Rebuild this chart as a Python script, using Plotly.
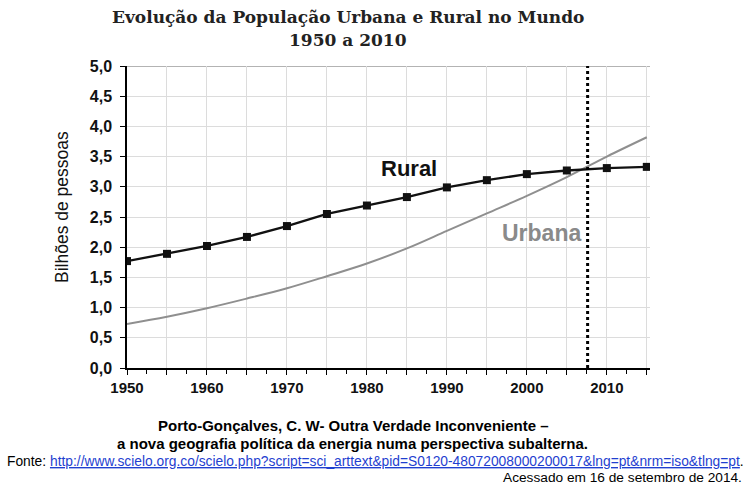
import plotly.graph_objects as go

years = [1950, 1955, 1960, 1965, 1970, 1975, 1980, 1985, 1990, 1995, 2000, 2005, 2010, 2015]
rural = [1.77, 1.89, 2.02, 2.17, 2.35, 2.55, 2.69, 2.83, 2.99, 3.11, 3.21, 3.27, 3.31, 3.33]
urbana = [0.73, 0.85, 0.99, 1.15, 1.32, 1.52, 1.73, 1.98, 2.27, 2.56, 2.85, 3.16, 3.50, 3.82]
crossover_year = 2007.6
y_ticks = [0, 0.5, 1, 1.5, 2, 2.5, 3, 3.5, 4, 4.5, 5]
x_label_years = [1950, 1960, 1970, 1980, 1990, 2000, 2010]

title1 = "Evolução da População Urbana e Rural no Mundo"
title2 = "1950 a 2010"
cap1 = "Porto-Gonçalves, C. W- Outra Verdade Inconveniente –"
cap2 = "a nova geografia política da energia numa perspectiva subalterna."
url = "http://www.scielo.org.co/scielo.php?script=sci_arttext&pid=S0120-48072008000200017&lng=pt&nrm=iso&tlng=pt"
acc = "Acessado em 16 de setembro de 2014."

SANS = "Liberation Sans, Arial, sans-serif"
SERIF = "DejaVu Serif, serif"

fig = go.Figure()
fig.add_trace(go.Scatter(x=years, y=urbana, mode="lines", line=dict(color="#8f8f8f", width=2, shape="spline"),
                         showlegend=False))
fig.add_trace(go.Scatter(x=years, y=rural, mode="lines+markers", line=dict(color="#111111", width=2.3),
                         marker=dict(symbol="square", size=8, color="#111111"), showlegend=False))

fig.add_shape(type="line", x0=crossover_year, x1=crossover_year, y0=0, y1=5, xref="x", yref="y",
              line=dict(color="#000000", width=3, dash="dot"))
fig.add_shape(type="line", x0=0, x1=1, xref="paper", y0=5, y1=5, yref="y",
              line=dict(color="#9a9a9a", width=1.5), layer="below")

tickvals = years
ticktext = [str(y) if y in x_label_years else "" for y in years]

fig.update_xaxes(range=[1950, 2015.4], tickvals=tickvals, ticktext=ticktext,
                 ticks="outside", ticklen=5, tickcolor="#000", showgrid=True, gridcolor="#dcdcdc", gridwidth=1,
                 showline=True, linecolor="#000", linewidth=1.5, zeroline=False,
                 tickfont=dict(family=SANS, size=15, color="#111", weight="bold"),
                 minor=dict(dtick=2.5, tick0=1950, ticks="outside", ticklen=4, tickcolor="#000", showgrid=False))
fig.update_yaxes(range=[0, 5], tickvals=y_ticks, tickformat=".1f", ticks="outside", ticklen=5, tickcolor="#000",
                 showgrid=True, gridcolor="#dcdcdc", gridwidth=1, showline=True, linecolor="#000", linewidth=1.5,
                 zeroline=False, ticklabelstandoff=5,
                 tickfont=dict(family=SANS, size=16, color="#111", weight="bold"))


def px(xp, yp):
    return (xp - 127) / 523.0, (368 - yp) / 302.0


anns = []


def add(text, x, y, font, xanchor="center", angle=0):
    xp, yp = px(x, y)
    anns.append(dict(text=text, x=xp, y=yp, xref="paper", yref="paper", showarrow=False,
                     xanchor=xanchor, yanchor="middle", font=font, textangle=angle))


add("<b>" + title1 + "</b>", 348, 17, dict(family=SERIF, size=17, color="#222"))
add("<b>" + title2 + "</b>", 348, 40, dict(family=SERIF, size=17, color="#222"))
add("<b>" + cap1 + "</b>", 353, 425, dict(family=SANS, size=15, color="#000"))
add("<b>" + cap2 + "</b>", 352, 443, dict(family=SANS, size=15, color="#000"))
add("Fonte: <span style='color:#1f3fd0'><u>" + url + "</u></span>.", 5, 461,
    dict(family=SANS, size=13.8, color="#000"), xanchor="left")
add(acc, 744, 478, dict(family=SANS, size=13.7, color="#000"), xanchor="right")
add("Bilhões de pessoas", 62, 207, dict(family=SANS, size=17.5, color="#111"), angle=-90)

anns.append(dict(text="<b>Rural</b>", x=1985.3, y=3.31, xref="x", yref="y", showarrow=False,
                 font=dict(family=SANS, size=22, color="#111")))
anns.append(dict(text="<b>Urbana</b>", x=2001.8, y=2.23, xref="x", yref="y", showarrow=False,
                 font=dict(family=SANS, size=23, color="#8a8a8a")))

fig.update_layout(width=750, height=488, margin=dict(l=127, r=100, t=66, b=120, autoexpand=False),
                  plot_bgcolor="white", paper_bgcolor="white", separators=",.", annotations=anns)

fig.write_html("out.html", config={"displayModeBar": False},
               post_script="document.body.style.margin='0';document.body.style.overflow='hidden';")
